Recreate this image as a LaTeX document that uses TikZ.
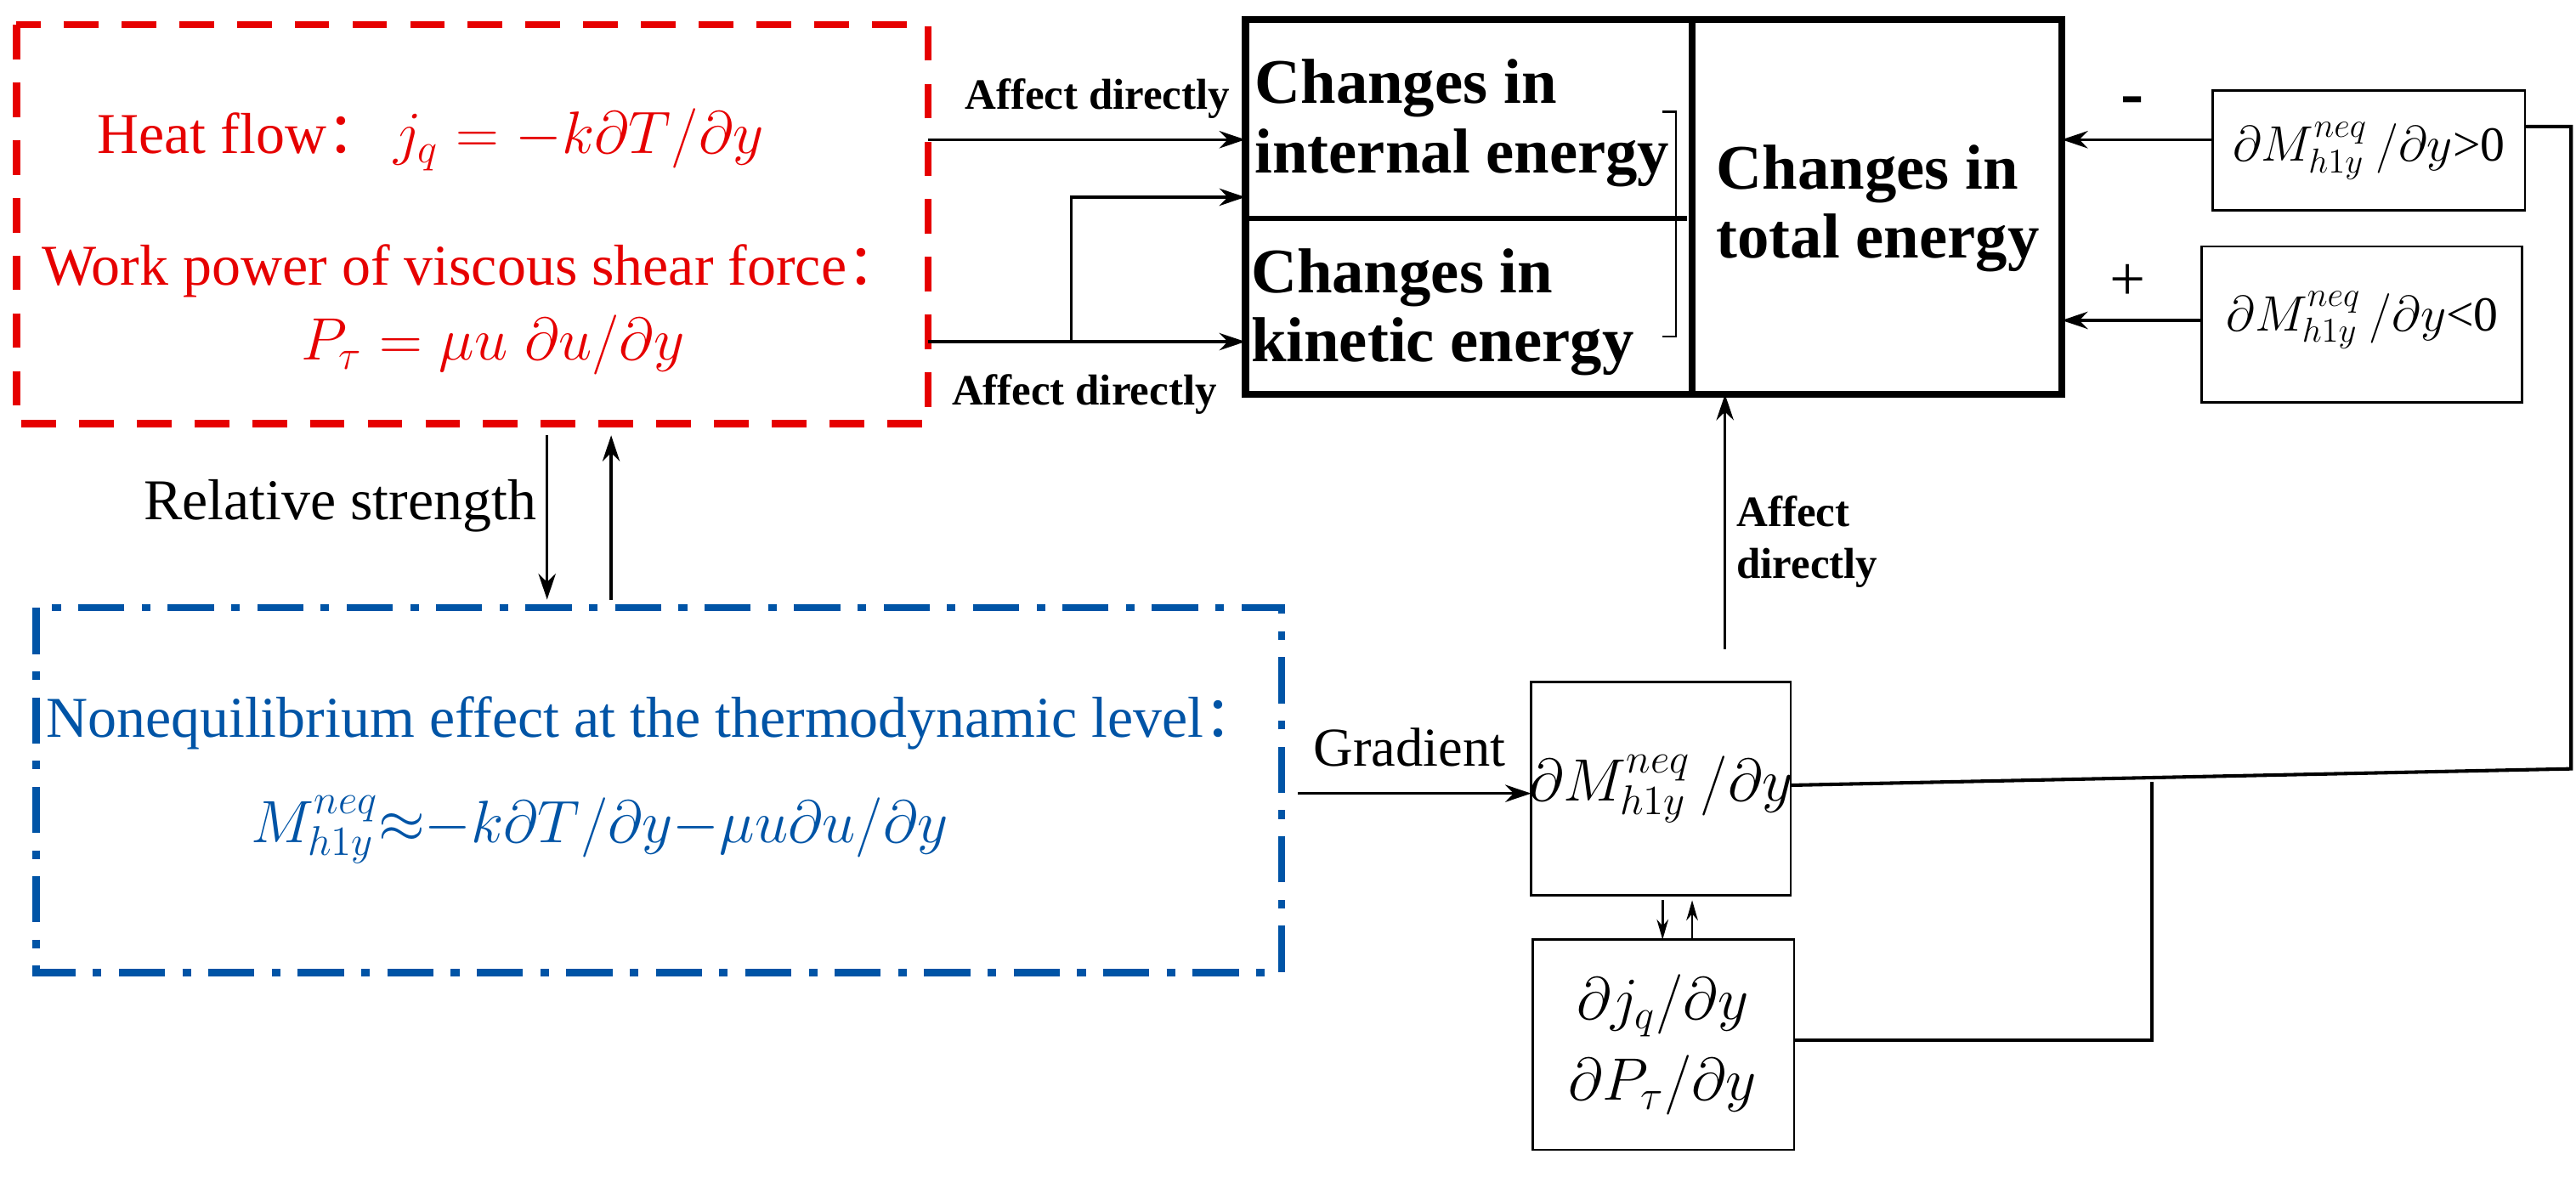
\documentclass[tikz,border=0pt]{standalone}
\usepackage{fontspec}
\setmainfont{Liberation Serif}
\newfontfamily\cjk{Noto Sans CJK SC}
\usetikzlibrary{arrows.meta}
\definecolor{myred}{RGB}{230,0,0}
\definecolor{myblue}{RGB}{0,84,166}
\newcommand{\fcolon}{{\cjk ：}}
\begin{document}
\begin{tikzpicture}[x=0.02cm,y=-0.02cm,
  arr/.style={-{Stealth[length=9pt,width=6pt]},line width=1pt},
  sarr/.style={-{Stealth[length=7pt,width=4pt]},line width=0.8pt},
  lbl/.style={font=\fontsize{15}{18}\selectfont\bfseries,inner sep=1pt},
  txt/.style={font=\fontsize{20}{24}\selectfont},
  big/.style={font=\fontsize{22}{25}\selectfont\bfseries,align=left}]
\useasboundingbox (0,0) rectangle (1568,716);
% red dashed box
\draw[myred,line width=2.5pt,dash pattern=on 12pt off 8pt] (10,15) rectangle (565,258);
\coordinate (r1) at (565,85); \coordinate (r2) at (565,208);
\node[myred,txt] (hf) at (262,85) {Heat flow\fcolon\,$j_q=-k\partial T/\partial y$};
\node[myred,txt] (wp) at (288,165) {Work power of viscous shear force\fcolon};
\node[myred,txt] (pt) at (300,210) {$P_\tau=\mu u\;\partial u/\partial y$};
% blue dash-dot box
\draw[myblue,line width=2.5pt,dash pattern=on 16pt off 6pt on 3pt off 6pt] (22,370) rectangle (780,592);
\node[myblue,txt] (ne) at (398,440) {Nonequilibrium effect at the thermodynamic level\fcolon};
\node[myblue,txt] (nf) at (365,505) {$M^{neq}_{h1y}{\approx}{-}k\partial T/\partial y{-}\mu u\partial u/\partial y$};
% main box
\draw[line width=2.5pt] (758,12) rectangle (1255,240);
\draw[line width=2.5pt] (1030,12) -- (1030,240);
\draw[line width=2pt] (758,133) -- (1027,133);
\draw[line width=0.7pt] (1012,68) -- (1020,68) -- (1020,205) -- (1012,205);
\coordinate (mi) at (758,85); \coordinate (mi2) at (758,120); \coordinate (mk) at (758,208);
\coordinate (mr1) at (1255,85); \coordinate (mr2) at (1255,195); \coordinate (mb) at (1050,240);
\node[big] (ci) at (890,75) {Changes in\\[-1pt]internal energy};
\node[big] (ck) at (878,190) {Changes in\\[-1pt]kinetic energy};
\node[big] (ct) at (1143,127) {Changes in\\[-1pt]total energy};
% top arrows
\draw[arr] (r1) -- (mi);
\draw[arr] (r2) -- (mk);
\draw[arr] (652,208) -- (652,120) -- (mi2);
\node[lbl] (a1) at (668,60) {Affect directly};
\node[lbl] (a2) at (660,240) {Affect directly};
% right boxes
\draw[line width=0.8pt] (1347,55) rectangle (1537,128);
\node[font=\fontsize{17}{20}\selectfont] (p1) at (1442,92) {$\partial M^{neq}_{h1y}\,/\partial y$>0};
\draw[line width=0.8pt] (1340,150) rectangle (1535,245);
\node[font=\fontsize{17}{20}\selectfont] (p2) at (1438,195) {$\partial M^{neq}_{h1y}\,/\partial y$<0};
\draw[arr] (1347,85) -- (mr1);
\draw[arr] (1340,195) -- (mr2);
\node[font=\fontsize{24}{26}\selectfont\bfseries] (mn) at (1298,65) {-};
\node[font=\fontsize{22}{24}\selectfont] (pl) at (1295,172) {+};
% relative strength
\draw[arr] (333,265) -- (333,365);
\draw[arr] (372,365) -- (372,265);
\node[txt] (rs) at (207,308) {Relative strength};
% dM box
\draw[line width=0.8pt] (932,415) rectangle (1090,545);
\node[font=\fontsize{20}{24}\selectfont] (dm) at (1011,480) {$\partial M^{neq}_{h1y}\,/\partial y$};
\draw[arr] (790,483) -- (932,483);
\node[font=\fontsize{19}{22}\selectfont] (gr) at (858,455) {Gradient};
\draw[arr] (1050,395) -- (mb);
\node[lbl,align=left] (a3) at (1100,330) {Affect\\directly};
% bottom box
\draw[line width=0.8pt] (933,572) rectangle (1092,700);
\node[font=\fontsize{22}{28}\selectfont,align=center] (dj) at (1012,636) {$\partial j_q/\partial y$\\$\partial P_\tau/\partial y$};
\draw[sarr] (1012,548) -- (1012,572);
\draw[sarr] (1030,572) -- (1030,548);
% connectors
\draw[line width=1.2pt] (1090,478) -- (1565,468) -- (1565,77) -- (1537,77);
\draw[line width=1.2pt] (1310,476) -- (1310,633) -- (1092,633);
\end{tikzpicture}
\end{document}
